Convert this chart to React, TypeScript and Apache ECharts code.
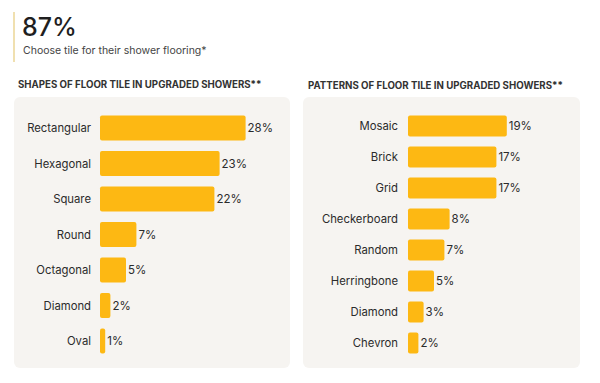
import React, { useEffect, useRef } from "react";
import * as echarts from "echarts";

const shapeCategories = ["Rectangular", "Hexagonal", "Square", "Round", "Octagonal", "Diamond", "Oval"];
const shapeValues = [28, 23, 22, 7, 5, 2, 1];

const patternCategories = ["Mosaic", "Brick", "Grid", "Checkerboard", "Random", "Herringbone", "Diamond", "Chevron"];
const patternValues = [19, 17, 17, 8, 7, 5, 3, 2];

const headline = "87%";
const subtitle = "Choose tile for their shower flooring*";
const leftTitle = "SHAPES OF FLOOR TILE IN UPGRADED SHOWERS**";
const rightTitle = "PATTERNS OF FLOOR TILE IN UPGRADED SHOWERS**";

const FONT = "Inter, 'Noto Sans', sans-serif";
const BAR = "#FDB813";
const TEXT = "#2b2b2b";

export default function App() {
  const ref = useRef<HTMLDivElement>(null);
  useEffect(() => {
    if (!ref.current) return;
    const chart = echarts.init(ref.current, null, { renderer: "svg" });
    const catAxis = (data: string[], gridIndex: number, margin: number) => ({
      type: "category",
      gridIndex,
      data,
      inverse: true,
      axisLine: { show: false },
      axisTick: { show: false },
      axisLabel: { color: TEXT, fontSize: 11.3, fontFamily: FONT, margin },
    });
    const valAxis = (gridIndex: number) => ({
      type: "value",
      gridIndex,
      min: 0,
      max: 30,
      show: false,
      splitLine: { show: false },
    });
    const barSeries = (data: number[], idx: number, width: number) => ({
      type: "bar",
      xAxisIndex: idx,
      yAxisIndex: idx,
      data,
      barWidth: width,
      itemStyle: { color: BAR, borderRadius: 2 },
      label: {
        show: true,
        position: "right",
        distance: 2,
        formatter: "{c}%",
        color: TEXT,
        fontSize: 11.5,
        fontFamily: FONT,
      },
    });
    chart.setOption({
      animation: false,
      backgroundColor: "#ffffff",
      graphic: [
        { type: "rect", z: -10, shape: { x: 14, y: 97, width: 276, height: 271, r: 6 }, style: { fill: "#f6f4f1" } },
        { type: "rect", z: -10, shape: { x: 303, y: 97, width: 277, height: 271, r: 6 }, style: { fill: "#f6f4f1" } },
        { type: "rect", shape: { x: 13, y: 12, width: 2, height: 50 }, style: { fill: "#f0e0b0" } },
        { type: "text", x: 22, y: 14, style: { text: headline, fontSize: 25, fontWeight: 500, fill: "#1f1f1f", fontFamily: FONT } },
        { type: "text", x: 23, y: 45, style: { text: subtitle, fontSize: 10.5, fill: "#444", fontFamily: FONT } },
        { type: "text", x: 18, y: 79, style: { text: leftTitle, fontSize: 9.7, fontWeight: 700, fill: "#333", fontFamily: FONT } },
        { type: "text", x: 308, y: 80, style: { text: rightTitle, fontSize: 9.7, fontWeight: 700, fill: "#333", fontFamily: FONT } },
      ],
      grid: [
        { left: 100, top: 110.25, width: 156, height: 248.5 },
        { left: 408, top: 110.5, width: 156, height: 248 },
      ],
      xAxis: [valAxis(0), valAxis(1)],
      yAxis: [catAxis(shapeCategories, 0, 9), catAxis(patternCategories, 1, 10)],
      series: [barSeries(shapeValues, 0, 25), barSeries(patternValues, 1, 21)],
    });
    return () => chart.dispose();
  }, []);
  return <div ref={ref} style={{ position: "fixed", left: 0, top: 0, width: 600, height: 383 }} />;
}
